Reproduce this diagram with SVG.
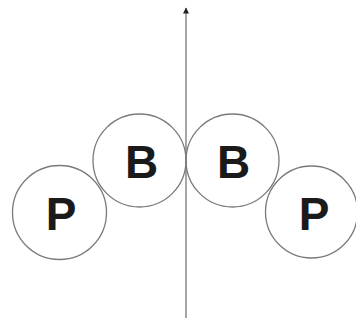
<svg xmlns="http://www.w3.org/2000/svg" width="356" height="320" viewBox="0 0 356 320">
<style>
.c{fill:none;stroke:#7a7a7a;stroke-width:1.3}
.t{font-family:"Liberation Sans",Arial,sans-serif;font-weight:bold;font-size:46px;fill:#1a1a1a;text-anchor:middle}
.ax{stroke:#888;stroke-width:1.5;fill:none}
</style>
<defs>
<marker id="ah" viewBox="0 0 10 10" refX="9" refY="5" markerWidth="7" markerHeight="6" markerUnits="userSpaceOnUse" orient="auto">
<path d="M0,0 L10,5 L0,10 Z" fill="#222"/>
</marker>
</defs>
<rect width="356" height="320" fill="#fff"/>
<g id="connectors">
<line class="ax" x1="186" y1="318" x2="186" y2="8" marker-end="url(#ah)"/>
</g>
<g id="p-left"><circle class="c" cx="59.5" cy="212.5" r="47"/><text class="t" x="61" y="230">P</text></g>
<g id="b-left"><circle class="c" cx="139.5" cy="160.5" r="46.5"/><text class="t" x="141.5" y="178">B</text></g>
<g id="b-right"><circle class="c" cx="232.5" cy="160.5" r="46.5"/><text class="t" x="233.5" y="178">B</text></g>
<g id="p-right"><circle class="c" cx="311.5" cy="212" r="46"/><text class="t" x="314" y="230">P</text></g>
</svg>
